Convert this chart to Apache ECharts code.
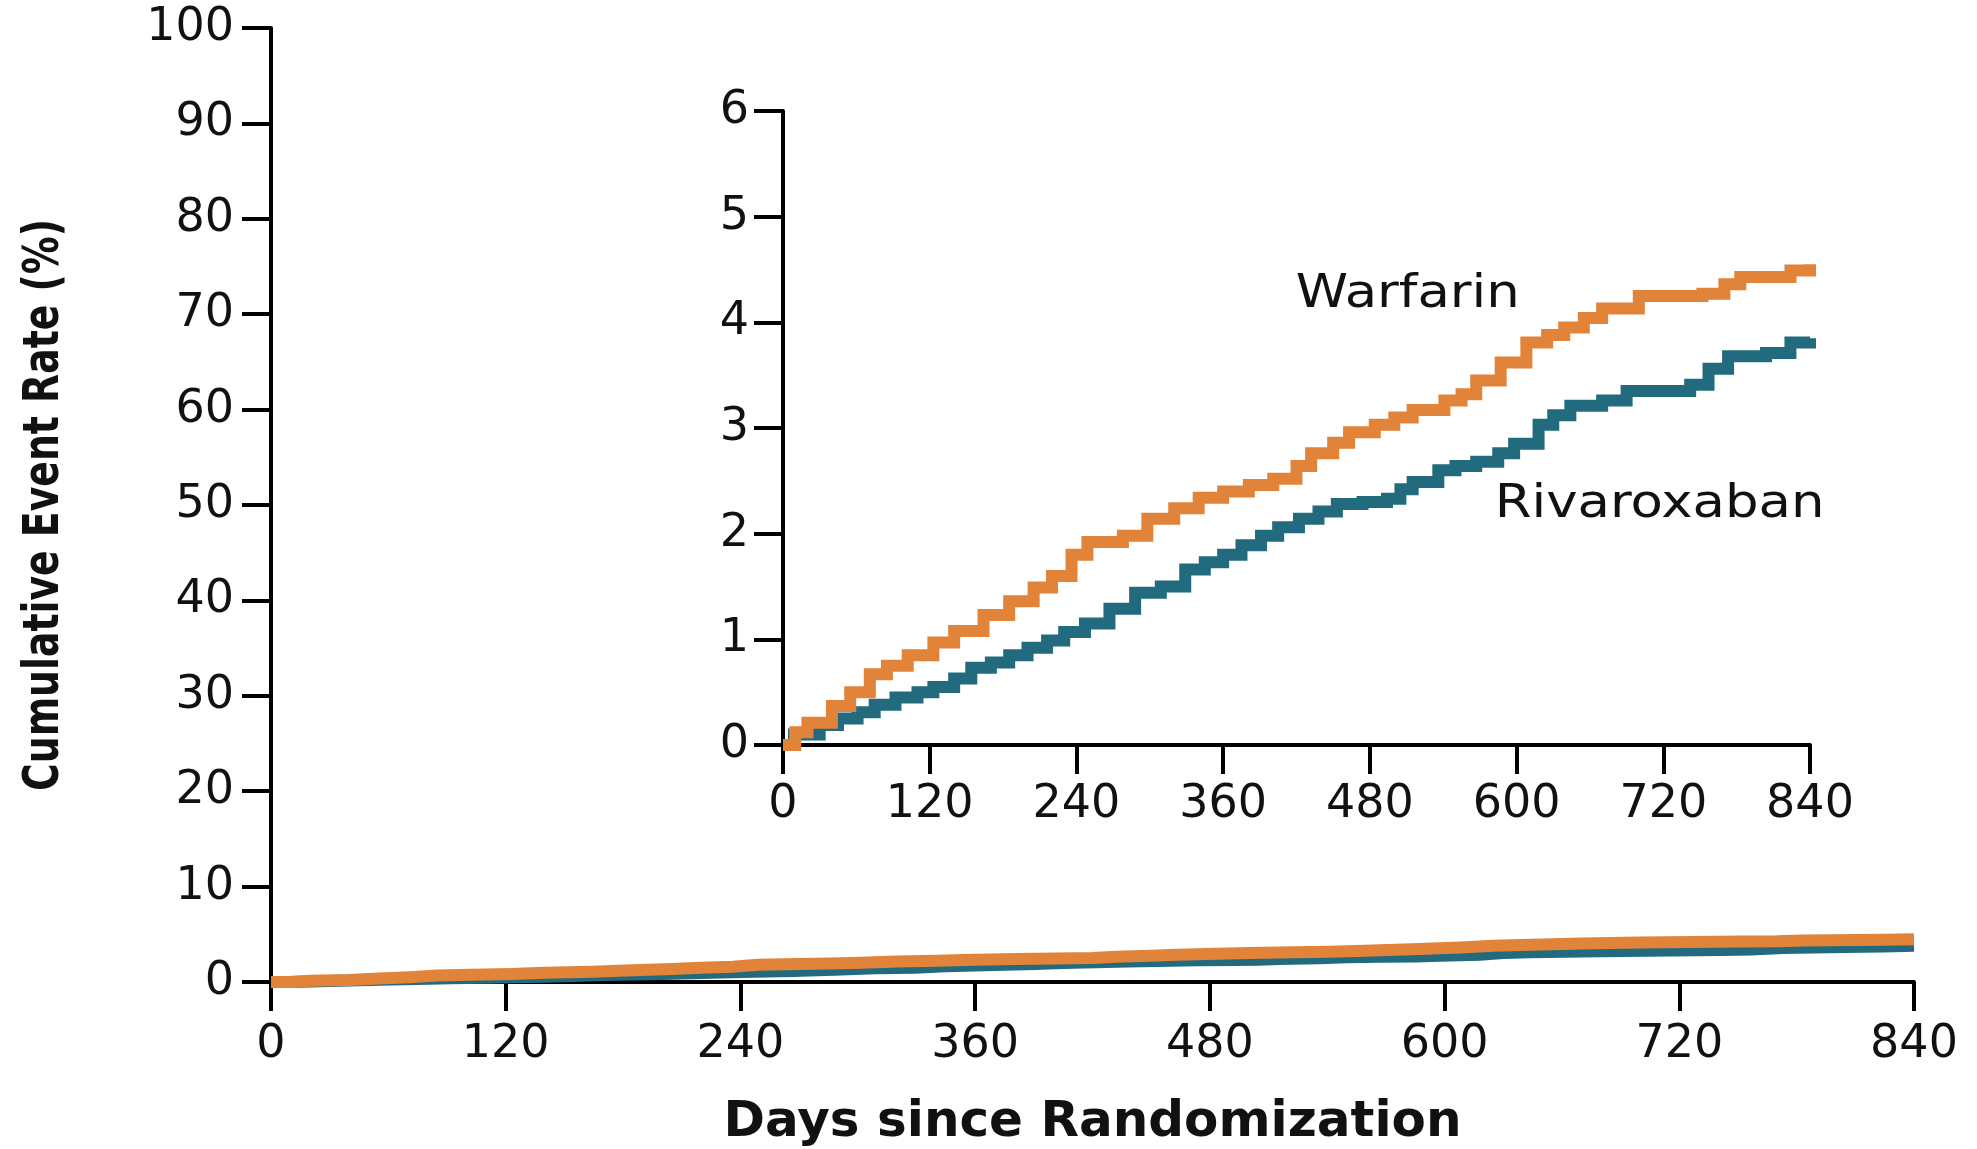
<!DOCTYPE html>
<html>
<head>
<meta charset="utf-8">
<title>Cumulative Event Rate</title>
<script src="https://cdn.jsdelivr.net/npm/echarts@6/dist/echarts.min.js"></script>
<style>
  html, body { margin: 0; padding: 0; background: #fff; }
  #chart { width: 1977px; height: 1149px; }
</style>
</head>
<body>
<div id="chart"></div>
<script>
// days since randomization / cumulative event rate (%)
const warfarinDays = [0, 10, 20, 40, 55, 71, 85, 102, 123, 140, 164, 185, 205, 220, 236, 249, 278, 298, 320, 340, 360, 381, 401, 420, 432, 450, 463, 484, 500, 515, 541, 555, 567, 587, 608, 625, 639, 655, 670, 700, 752, 770, 783, 824, 840]
const warfarinRate = [0, 0.12, 0.21, 0.37, 0.5, 0.67, 0.75, 0.85, 0.97, 1.08, 1.23, 1.36, 1.49, 1.6, 1.8, 1.92, 1.98, 2.14, 2.24, 2.34, 2.4, 2.46, 2.52, 2.64, 2.76, 2.86, 2.96, 3.03, 3.1, 3.17, 3.26, 3.32, 3.45, 3.62, 3.81, 3.88, 3.95, 4.04, 4.13, 4.25, 4.27, 4.36, 4.43, 4.49, 4.55]

const rivaroxabanDays = [0, 9, 30, 45, 61, 75, 92, 110, 123, 140, 154, 170, 185, 200, 216, 230, 247, 267, 288, 309, 329, 345, 360, 375, 391, 405, 422, 438, 453, 474, 494, 505, 515, 536, 550, 567, 585, 598, 618, 630, 644, 670, 690, 742, 757, 773, 804, 824, 840]
const rivaroxabanRate = [0, 0.1, 0.19, 0.25, 0.31, 0.38, 0.45, 0.5, 0.55, 0.63, 0.73, 0.78, 0.85, 0.92, 0.99, 1.07, 1.15, 1.29, 1.44, 1.5, 1.66, 1.73, 1.8, 1.89, 1.98, 2.06, 2.14, 2.21, 2.28, 2.3, 2.33, 2.42, 2.49, 2.6, 2.64, 2.68, 2.76, 2.85, 3.03, 3.12, 3.21, 3.26, 3.35, 3.41, 3.56, 3.68, 3.71, 3.81, 3.85]

// axis ticks
const dayTicks = [0, 120, 240, 360, 480, 600, 720, 840]
const mainRateTicks = [0, 10, 20, 30, 40, 50, 60, 70, 80, 90, 100]
const insetRateTicks = [0, 1, 2, 3, 4, 5, 6]

// series names shown inside the inset, at (day, rate)
const labelNames = ['Warfarin', 'Rivaroxaban']
const labelDays = [511, 717]
const labelRates = [4.26, 2.27]

const ORANGE = '#e2833a'
const TEAL = '#226b7e'
const FONT = 'DejaVu Sans'

function pairs(xs, ys) {
  return xs.map((x, i) => [x, ys[i]])
}

function axisStyle() {
  return {
    axisLine: { show: true, onZero: false, lineStyle: { color: '#000', width: 4 } },
    axisTick: { show: true, inside: false, length: 29, lineStyle: { color: '#000', width: 4 } },
    splitLine: { show: false }
  }
}

function xAxis(gridIndex, gap) {
  return Object.assign({
    type: 'value',
    gridIndex: gridIndex,
    min: dayTicks[0],
    max: dayTicks[dayTicks.length - 1],
    interval: dayTicks[1] - dayTicks[0],
    axisLabel: { color: '#111', fontFamily: FONT, fontSize: 46, margin: gap }
  }, axisStyle())
}

function yAxis(gridIndex, ticks, gap) {
  return Object.assign({
    type: 'value',
    gridIndex: gridIndex,
    min: ticks[0],
    max: ticks[ticks.length - 1],
    interval: ticks[1] - ticks[0],
    axisLabel: { color: '#111', fontFamily: FONT, fontSize: 46, margin: gap }
  }, axisStyle())
}

function km(name, days, rate, color, axisIndex) {
  return {
    name: name,
    type: 'line',
    step: 'end',
    xAxisIndex: axisIndex,
    yAxisIndex: axisIndex,
    data: pairs(days, rate),
    showSymbol: false,
    lineStyle: { color: color, width: 12, join: 'miter', cap: 'butt' },
    itemStyle: { color: color },
    z: name === 'Warfarin' ? 3 : 2
  }
}

const chart = echarts.init(document.getElementById('chart'))

const option = {
  animation: false,
  backgroundColor: '#fff',
  grid: [
    { left: 271, top: 28, right: 63, bottom: 167, containLabel: false, outerBoundsMode: 'none' },
    { left: 783, top: 111, width: 1027, height: 634, containLabel: false, outerBoundsMode: 'none' }
  ],
  xAxis: [
    Object.assign(xAxis(0, 40), {
      name: 'Days since Randomization',
      nameLocation: 'middle',
      nameGap: 116,
      nameTextStyle: { color: '#111', fontFamily: FONT, fontWeight: 'bold', fontSize: 50 }
    }),
    xAxis(1, 37)
  ],
  yAxis: [
    yAxis(0, mainRateTicks, 37),
    yAxis(1, insetRateTicks, 34)
  ],
  series: [
    km('Rivaroxaban', rivaroxabanDays, rivaroxabanRate, TEAL, 0),
    km('Warfarin', warfarinDays, warfarinRate, ORANGE, 0),
    km('Rivaroxaban', rivaroxabanDays, rivaroxabanRate, TEAL, 1),
    km('Warfarin', warfarinDays, warfarinRate, ORANGE, 1)
  ]
}

chart.setOption(option)

// series name labels placed in inset data space
const labels = labelNames.map((name, i) => {
  const p = chart.convertToPixel({ xAxisIndex: 1, yAxisIndex: 1 }, [labelDays[i], labelRates[i]])
  return {
    type: 'text',
    x: p[0],
    y: p[1],
    scaleX: 1.15,
    style: {
      text: name,
      fill: '#111',
      font: '46px "' + FONT + '"',
      align: 'center',
      verticalAlign: 'middle'
    },
    z: 10
  }
})

// y axis title: tall, condensed bold, centred on the main plot
const mainTop = chart.convertToPixel({ xAxisIndex: 0, yAxisIndex: 0 }, [0, 100])
const mainBottom = chart.convertToPixel({ xAxisIndex: 0, yAxisIndex: 0 }, [0, 0])
labels.push({
  type: 'text',
  x: 45,
  y: (mainTop[1] + mainBottom[1]) / 2,
  rotation: Math.PI / 2,
  scaleX: 0.84,
  style: {
    text: 'Cumulative Event Rate (%)',
    fill: '#111',
    font: 'bold 50px "DejaVu Sans Condensed", "DejaVu Sans"',
    align: 'center',
    verticalAlign: 'middle'
  }
})

chart.setOption({ graphic: labels })
</script>
</body>
</html>
